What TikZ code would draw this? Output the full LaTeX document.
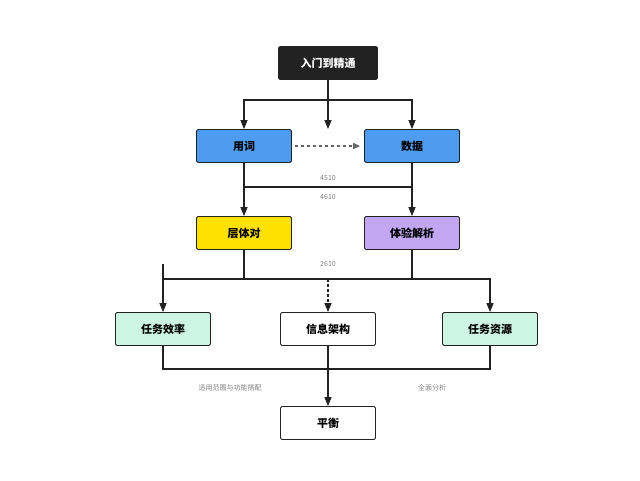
\documentclass[tikz,border=0pt]{standalone}
\usepackage{fontspec}
\setmainfont{Noto Sans CJK SC}
\usetikzlibrary{arrows.meta}
\definecolor{bl}{HTML}{4D9CF2}
\definecolor{yl}{HTML}{FFE100}
\definecolor{pu}{HTML}{C2A6F2}
\definecolor{mi}{HTML}{CCF5E3}
\definecolor{dk}{HTML}{222222}
\begin{document}
\begin{tikzpicture}[x=1pt,y=-1pt,
  box/.style={draw=dk,line width=0.8pt,rounded corners=1.5pt,minimum width=95pt,minimum height=33pt,font=\bfseries\fontsize{11}{13}\selectfont,inner sep=0pt},
  ln/.style={line width=1.2pt,draw=dk},
  ar/.style={ln,-{Triangle[length=9pt,width=7pt]}},
  lb/.style={font=\fontsize{7}{8}\selectfont,text=gray}]
\useasboundingbox (0,0) rectangle (640,480);
\node[box,fill=dk,text=white,minimum width=99pt] (a) at (328,63) {入门到精通};
\node[box,fill=bl] (b) at (244,146) {用词};
\node[box,fill=bl] (c) at (412,146) {数据};
\node[box,fill=yl] (d) at (244,233) {层体对};
\node[box,fill=pu] (e) at (412,233) {体验解析};
\node[box,fill=mi] (f) at (163,329) {任务效率};
\node[box,fill=white] (g) at (328,329) {信息架构};
\node[box,fill=mi] (h) at (490,329) {任务资源};
\node[box,fill=white] (i) at (328,423) {平衡};
\coordinate (j1) at (328,100);
\coordinate (j2) at (244,187);
\coordinate (j3) at (328,279);
\coordinate (j4) at (328,369);
\draw[ar] (a) -- (j1 |- b.north) ;
\draw[ln] (a.south) -- (j1);
\draw[ar] (j1) -| (b.north);
\draw[ar] (j1) -| (c.north);
\draw[ln,dashed,draw=gray!80!black,-{Triangle[length=7pt,width=6pt]}] (b.east) ++(3,0) -- ([xshift=-4pt]c.west);
\draw[ar] (b.south) -- (d.north);
\draw[ar] (c.south) -- (e.north);
\draw[ln] (b.south |- j2) -- (c.south |- j2);
\draw[ln] (d.south) -- (d.south |- j3);
\draw[ln] (e.south) -- (e.south |- j3);
\draw[ar] (f.north |- j3) -- (h.north |- j3) -- (h.north);
\draw[ar] (h.north -| f.north) ++(0,-48) -- (f.north);
\draw[ar,dashed,dash pattern=on 3pt off 2pt] (j3) -- (g.north);
\draw[ln] (f.south) |- (j4) ;
\draw[ln] (h.south) |- (j4);
\draw[ar] (g.south) -- (i.north);
\node[lb] (l1) at (328,178) {4510};
\node[lb] (l2) at (328,197) {4610};
\node[lb] (l3) at (328,264) {2610};
\node[lb] (l4) at (230,388) {适用范围与功能搭配};
\node[lb] (l5) at (432,388) {全面分析};
\end{tikzpicture}
\end{document}
